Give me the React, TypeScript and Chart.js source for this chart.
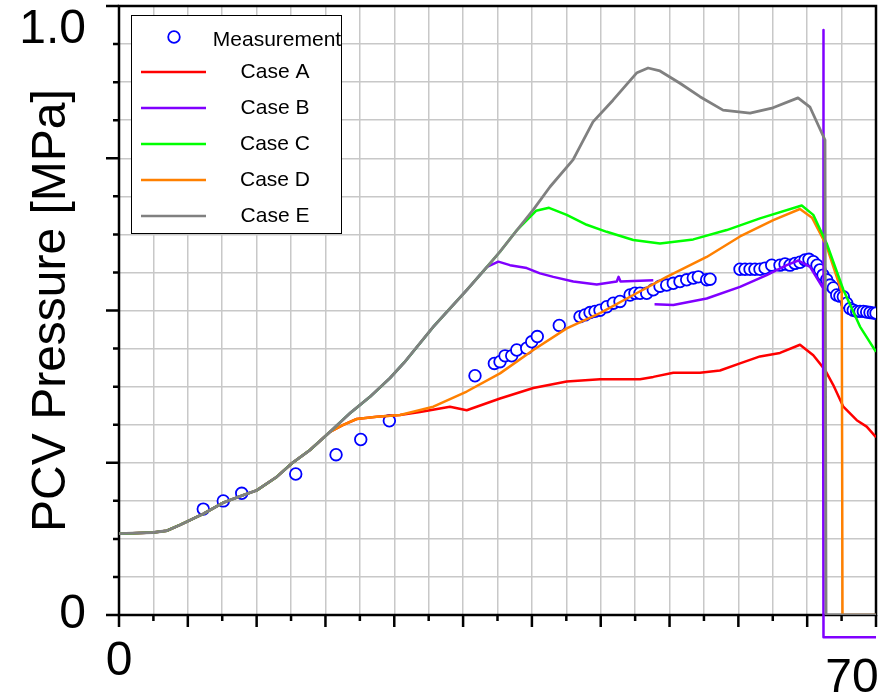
import React, { useEffect, useRef } from "react";
import { Chart, registerables } from "chart.js";

Chart.register(...registerables);

// ---------- axes ----------
const X_MAX = 72.3;
const Y_MAX = 1.041;
const X_GRID_DIVISIONS = 22;
const Y_GRID_DIVISIONS = 16;
const xLabelValues = [0, 70];
const xLabelTexts = ["0", "70"];
const yLabelValues = [0, 1.0];
const yLabelTexts = ["0", "1.0"];
const yTitle = "PCV Pressure [MPa]";

const seriesLabels = ["Measurement", "Case A", "Case B", "Case C", "Case D", "Case E"];
const seriesColors = ["#0000ff", "#ff0000", "#8000ff", "#00ff00", "#ff8000", "#808080"];

// ---------- data ----------
// shared initial rise of all cases
const riseX = [0, 3.25, 4.56, 5.83, 8.05, 9.96, 11.87, 13.15, 15.06, 16.49, 18.24, 20.15];
const riseY = [0.139, 0.141, 0.144, 0.154, 0.173, 0.192, 0.205, 0.213, 0.236, 0.259, 0.282, 0.313];

const caseAX = [21.42, 22.7, 24.61, 26.84, 28.75, 31.61, 33.21, 36.39, 39.57, 42.76, 45.94, 49.76, 51.03, 52.94, 55.49, 57.4, 59.31, 61.22, 63.13, 65.04, 66.31, 67.43, 68.22, 69.18, 70.46, 71.41, 72.3];
const caseAY = [0.325, 0.335, 0.339, 0.342, 0.347, 0.356, 0.35, 0.37, 0.388, 0.399, 0.403, 0.403, 0.407, 0.414, 0.414, 0.418, 0.43, 0.442, 0.448, 0.462, 0.444, 0.419, 0.393, 0.356, 0.333, 0.322, 0.304];

const caseBX = [22.06, 23.97, 25.88, 27.31, 29.99, 33.24, 35.15, 36.23, 37.34, 38.94, 40.21, 41.48, 43.39, 45.63, 47.54, 47.71, 47.9, 51.03, 51.09, 51.15, 52.94, 56.13, 59.31, 61.86, 63.77, 64.88, 66.0, 67.24, 67.27, 67.3, 72.3];
const caseBY = [0.345, 0.373, 0.405, 0.433, 0.492, 0.556, 0.595, 0.604, 0.598, 0.593, 0.584, 0.578, 0.57, 0.565, 0.57, 0.578, 0.57, 0.572, null, 0.531, 0.53, 0.541, 0.561, 0.581, 0.598, 0.606, 0.595, 0.559, 1.0, -0.038, -0.038];

const caseCX = [22.06, 23.97, 25.88, 27.31, 29.99, 33.24, 35.15, 36.39, 38.01, 39.83, 41.07, 42.76, 44.67, 46.58, 49.12, 51.67, 54.85, 58.04, 61.22, 65.21, 66.31, 67.59, 69.18, 70.77, 72.3];
const caseCY = [0.345, 0.373, 0.405, 0.433, 0.492, 0.556, 0.595, 0.621, 0.658, 0.691, 0.696, 0.684, 0.667, 0.655, 0.641, 0.635, 0.642, 0.658, 0.678, 0.7, 0.684, 0.635, 0.556, 0.493, 0.45];

const caseDX = [21.42, 22.7, 24.61, 26.84, 30.02, 33.21, 36.39, 39.57, 42.76, 45.94, 49.12, 52.31, 56.13, 59.31, 62.49, 65.04, 66.19, 67.53, 69.03, 69.1, 72.3];
const caseDY = [0.325, 0.335, 0.339, 0.342, 0.356, 0.382, 0.413, 0.453, 0.49, 0.516, 0.547, 0.578, 0.612, 0.647, 0.675, 0.694, 0.679, 0.633, 0.552, 0, 0];

const caseEX = [22.06, 23.97, 25.88, 27.31, 29.99, 33.24, 35.15, 36.39, 38.01, 39.54, 41.17, 43.36, 45.27, 47.18, 49.47, 50.53, 51.67, 53.58, 55.49, 57.69, 60.27, 62.46, 64.85, 66.0, 67.43, 67.53, 72.3];
const caseEY = [0.345, 0.373, 0.405, 0.433, 0.492, 0.556, 0.595, 0.621, 0.658, 0.692, 0.732, 0.778, 0.843, 0.88, 0.927, 0.935, 0.93, 0.909, 0.886, 0.863, 0.858, 0.867, 0.884, 0.868, 0.812, 0, 0];

const measX = [8.05, 9.96, 11.72, 16.88, 20.73, 23.09, 25.82, 34.0, 35.85, 36.39, 36.87, 37.51, 37.99, 38.94, 39.42, 39.95, 42.05, 44.03, 44.51, 44.99, 45.46, 45.94, 46.58, 47.21, 47.85, 48.81, 49.28, 49.76, 50.4, 51.03, 51.67, 52.31, 52.94, 53.58, 54.22, 54.85, 55.33, 56.13, 56.45, 59.31, 59.79, 60.27, 60.74, 61.22, 61.7, 62.34, 63.13, 63.61, 64.09, 64.57, 65.04, 65.52, 65.9, 66.31, 66.67, 66.95, 67.24, 67.59, 67.91, 68.22, 68.55, 68.86, 69.18, 69.5, 69.82, 70.13, 70.46, 70.77, 71.09, 71.41, 71.73, 72.05, 72.3];
const measY = [0.181, 0.195, 0.208, 0.241, 0.274, 0.3, 0.332, 0.409, 0.43, 0.433, 0.443, 0.443, 0.453, 0.456, 0.467, 0.476, 0.495, 0.51, 0.513, 0.517, 0.519, 0.521, 0.527, 0.533, 0.536, 0.547, 0.55, 0.55, 0.55, 0.556, 0.562, 0.564, 0.567, 0.57, 0.573, 0.576, 0.578, 0.573, 0.574, 0.591, 0.591, 0.591, 0.591, 0.591, 0.593, 0.598, 0.598, 0.6, 0.598, 0.601, 0.603, 0.607, 0.608, 0.604, 0.598, 0.59, 0.581, 0.573, 0.564, 0.559, 0.547, 0.545, 0.544, 0.533, 0.524, 0.521, 0.519, 0.519, 0.519, 0.518, 0.517, 0.516, 0.516];

// ---------- helpers ----------
const FONT = '"Liberation Sans", Arial, Helvetica, sans-serif';
const GRID_COLOR = "#c8c8c8";

function pts(xs: number[], ys: (number | null)[]) {
  return xs.map((x, i) => ({ x, y: ys[i] }));
}

function gridValues(max: number, n: number) {
  const out: number[] = [];
  for (let i = 0; i <= n; i++) out.push((i * max) / n);
  return out;
}

function isGridValue(v: number, max: number, n: number) {
  return gridValues(max, n).some((g) => Math.abs(g - v) < 1e-6);
}

function buildTicks(max: number, n: number, labelVals: number[]) {
  const vals = gridValues(max, n);
  labelVals.forEach((lv) => {
    if (!vals.some((g) => Math.abs(g - lv) < 1e-6)) vals.push(lv);
  });
  vals.sort((a, b) => a - b);
  return vals.map((value) => ({ value }));
}

function labelFor(v: number, vals: number[], texts: string[]) {
  const k = vals.findIndex((lv) => Math.abs(lv - v) < 1e-6);
  return k >= 0 ? texts[k] : "";
}

// frame + major/minor tick marks
const frameTicksPlugin = {
  id: "frameTicks",
  beforeDatasetsDraw(chart: any) {
    const { ctx, chartArea: a, scales } = chart;
    const xs = scales.x;
    const ys = scales.y;
    ctx.save();
    ctx.strokeStyle = "#000";
    ctx.lineWidth = 2.5;
    ctx.beginPath();
    for (let i = 0; i <= X_GRID_DIVISIONS; i++) {
      const px = xs.getPixelForValue((i * X_MAX) / X_GRID_DIVISIONS);
      const len = i % 2 === 0 ? 12 : 6;
      ctx.moveTo(px, a.bottom);
      ctx.lineTo(px, a.bottom + len);
    }
    for (let i = 0; i <= Y_GRID_DIVISIONS; i++) {
      const py = ys.getPixelForValue((i * Y_MAX) / Y_GRID_DIVISIONS);
      const len = i % 4 === 0 ? 13 : 6;
      ctx.moveTo(a.left, py);
      ctx.lineTo(a.left - len, py);
    }
    ctx.stroke();
    ctx.strokeRect(a.left, a.top, a.right - a.left, a.bottom - a.top);
    ctx.restore();
  },
};

// boxed legend inside the plot
const boxLegendPlugin = {
  id: "boxLegend",
  afterDatasetsDraw(chart: any) {
    const { ctx, chartArea: a } = chart;
    const left = a.left + 12;
    const top = a.top + 9;
    const w = 210;
    const h = 218;
    ctx.save();
    ctx.fillStyle = "#ffffff";
    ctx.fillRect(left, top, w, h);
    ctx.strokeStyle = "#000";
    ctx.lineWidth = 1;
    ctx.strokeRect(left + 0.5, top + 0.5, w, h);
    ctx.font = `21px ${FONT}`;
    ctx.textAlign = "center";
    ctx.textBaseline = "middle";
    chart.data.datasets.forEach((ds: any, i: number) => {
      if (i === 0) {
        const cy = top + 22;
        ctx.beginPath();
        ctx.arc(left + 43, cy, 5.8, 0, Math.PI * 2);
        ctx.strokeStyle = ds.borderColor;
        ctx.lineWidth = 1.8;
        ctx.stroke();
        ctx.fillStyle = "#000";
        ctx.fillText(ds.label, left + 146, cy + 3);
      } else {
        const cy = top + 57 + (i - 1) * 36;
        ctx.beginPath();
        ctx.moveTo(left + 10, cy);
        ctx.lineTo(left + 75, cy);
        ctx.strokeStyle = ds.borderColor;
        ctx.lineWidth = 2.5;
        ctx.stroke();
        ctx.fillStyle = "#000";
        ctx.fillText(ds.label, left + 144, cy);
      }
    });
    ctx.restore();
  },
};

function zeroPadding(s: any) {
  s.paddingTop = 0;
  s.paddingBottom = 0;
  s.paddingLeft = 0;
  s.paddingRight = 0;
}

export default function App() {
  const canvasRef = useRef<HTMLCanvasElement | null>(null);

  useEffect(() => {
    const canvas = canvasRef.current;
    if (!canvas) return;

    const lineBase = {
      pointRadius: 0,
      borderWidth: 2.5,
      tension: 0,
      fill: false,
      spanGaps: false,
      borderJoinStyle: "round" as const,
    };

    const datasets: any[] = [
      {
        label: seriesLabels[0],
        data: pts(measX, measY),
        showLine: false,
        pointRadius: 5.8,
        pointBorderWidth: 1.8,
        pointBorderColor: seriesColors[0],
        pointBackgroundColor: "#ffffff",
        borderColor: seriesColors[0],
        backgroundColor: "#ffffff",
        order: 6,
      },
      {
        ...lineBase,
        label: seriesLabels[1],
        data: pts([...riseX, ...caseAX], [...riseY, ...caseAY]),
        borderColor: seriesColors[1],
        order: 5,
      },
      {
        ...lineBase,
        label: seriesLabels[2],
        data: pts([...riseX, ...caseBX], [...riseY, ...caseBY]),
        borderColor: seriesColors[2],
        clip: false,
        order: 4,
      },
      {
        ...lineBase,
        label: seriesLabels[3],
        data: pts([...riseX, ...caseCX], [...riseY, ...caseCY]),
        borderColor: seriesColors[3],
        order: 2,
      },
      {
        ...lineBase,
        label: seriesLabels[4],
        data: pts([...riseX, ...caseDX], [...riseY, ...caseDY]),
        borderColor: seriesColors[4],
        order: 3,
      },
      {
        ...lineBase,
        label: seriesLabels[5],
        data: pts([...riseX, ...caseEX], [...riseY, ...caseEY]),
        borderColor: seriesColors[5],
        borderWidth: 2.8,
        order: 1,
      },
    ];

    const chart = new Chart(canvas, {
      type: "line",
      data: { datasets },
      plugins: [frameTicksPlugin, boxLegendPlugin],
      options: {
        responsive: false,
        animation: false,
        events: [],
        devicePixelRatio: 1,
        layout: { autoPadding: false, padding: { top: 6, right: 9, bottom: 0, left: 0 } },
        plugins: {
          legend: { display: false },
          tooltip: { enabled: false },
          title: { display: false },
        },
        scales: {
          x: {
            type: "linear",
            min: 0,
            max: X_MAX,
            afterBuildTicks: (s: any) => {
              s.ticks = buildTicks(X_MAX, X_GRID_DIVISIONS, xLabelValues);
            },
            afterFit: (s: any) => {
              s.height = 81;
              zeroPadding(s);
            },
            grid: {
              drawTicks: false,
              lineWidth: 1.5,
              color: (c: any) =>
                c.tick && !isGridValue(c.tick.value, X_MAX, X_GRID_DIVISIONS) ? "rgba(0,0,0,0)" : GRID_COLOR,
            },
            border: { display: false },
            ticks: {
              autoSkip: false,
              maxRotation: 0,
              minRotation: 0,
              padding: 18,
              color: "#000",
              font: (c: any) => ({
                family: FONT,
                size: 48,
                lineHeight: c.tick && Math.abs(c.tick.value - 70) < 1e-6 ? 1.9 : 1.2,
              }),
              callback: (v: any) => labelFor(Number(v), xLabelValues, xLabelTexts),
            },
          },
          y: {
            type: "linear",
            min: 0,
            max: Y_MAX,
            afterBuildTicks: (s: any) => {
              s.ticks = buildTicks(Y_MAX, Y_GRID_DIVISIONS, yLabelValues);
            },
            afterFit: (s: any) => {
              s.width = 119;
              zeroPadding(s);
            },
            grid: {
              drawTicks: false,
              lineWidth: 1.5,
              color: (c: any) =>
                c.tick && !isGridValue(c.tick.value, Y_MAX, Y_GRID_DIVISIONS) ? "rgba(0,0,0,0)" : GRID_COLOR,
            },
            border: { display: false },
            ticks: {
              autoSkip: false,
              padding: 33,
              color: "#000",
              font: { family: FONT, size: 48, lineHeight: 1.2 },
              callback: (v: any) => labelFor(Number(v), yLabelValues, yLabelTexts),
            },
            title: {
              display: true,
              text: yTitle,
              color: "#000",
              font: { family: FONT, size: 48, lineHeight: 1 },
              padding: { top: 28, bottom: 0 },
            },
          },
        },
      } as any,
    });

    return () => chart.destroy();
  }, []);

  return (
    <div style={{ position: "absolute", left: 0, top: 0, width: 885, height: 696, background: "#ffffff" }}>
      <canvas ref={canvasRef} width={885} height={696} style={{ display: "block" }} />
    </div>
  );
}
